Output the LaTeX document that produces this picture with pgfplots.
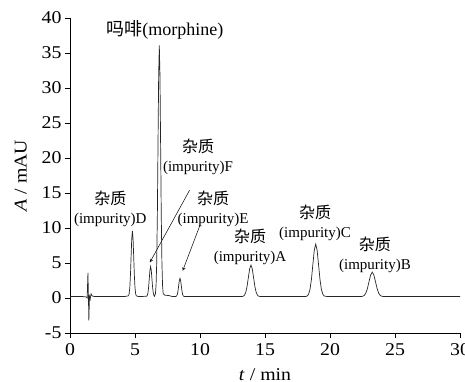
\documentclass[border=0pt]{standalone}
\usepackage{fontspec}
\setmainfont{Liberation Serif}
\newfontfamily\tickfont[FakeStretch=1.1]{Liberation Serif}
\newfontfamily\cjk{Noto Sans CJK SC}
\usepackage{pgfplots}
\pgfplotsset{compat=1.18}
\begin{document}
\begin{tikzpicture}
\begin{axis}[
  at={(70pt,49pt)}, anchor=south west,
  width=390pt, height=315pt, scale only axis,
  xmin=0, xmax=30, ymin=-5, ymax=40,
  axis x line=bottom, axis y line=left,
  axis line style={-, line width=0.7pt},
  xtick={0,5,...,30}, ytick={-5,0,...,40},
  tick align=outside, major tick length=5pt,
  tick style={line width=0.7pt, black},
  /pgf/number format/assume math mode=true,
  tick label style={font=\tickfont\fontsize{18}{20}\selectfont},
  xticklabel style={yshift=-2pt},
  xlabel={\textit{t} / min}, ylabel={\textit{A} / mAU},
  label style={font=\tickfont\fontsize{18}{20}\selectfont},
  xlabel style={at={(axis description cs:0.5,-0.132)}, anchor=center, inner sep=0pt},
  ylabel style={at={(axis description cs:-0.126,0.5)}, anchor=center},
  clip=false,
]
\addplot[line width=0.7pt, black!85] coordinates {
(0,0.2) (1.0,0.2) (1.25,0.15) (1.32,0.0) (1.38,3.6) (1.42,0.0) (1.45,-3.2) (1.5,0.2) (1.55,-0.2) (1.62,0.6) (1.7,0.3) (1.9,0.2)
(4.2,0.2) (4.45,0.3) (4.5,0.30) (4.55,0.61) (4.6,1.47) (4.65,3.25) (4.7,5.90) (4.75,8.50) (4.8,9.6) (4.85,8.50) (4.9,5.90) (4.95,3.25) (5.0,1.47) (5.05,0.61) (5.1,0.30) (5.3,0.2)
(5.9,0.25) (5.95,0.39) (6.0,0.78) (6.05,1.60) (6.1,2.81) (6.15,3.99) (6.2,4.5) (6.25,3.99) (6.3,2.81) (6.35,1.60) (6.4,0.78) (6.45,0.39) (6.5,0.25)
(6.57,0.60) (6.62,1.78) (6.67,5.06) (6.72,11.86) (6.77,21.97) (6.82,31.88) (6.87,36.1) (6.92,31.88) (6.97,21.97) (7.02,11.86) (7.07,5.06) (7.12,1.78) (7.17,0.60) (7.3,0.4) (7.6,0.35) (7.9,0.2)
(8.16,0.23) (8.21,0.31) (8.26,0.55) (8.31,1.04) (8.36,1.78) (8.41,2.49) (8.46,2.8) (8.51,2.49) (8.56,1.78) (8.61,1.04) (8.66,0.55) (8.71,0.31) (8.76,0.23) (9.0,0.2)
(13.2,0.2) (13.32,0.25) (13.42,0.40) (13.52,0.81) (13.62,1.66) (13.72,2.93) (13.82,4.17) (13.92,4.7) (14.02,4.17) (14.12,2.93) (14.22,1.66) (14.32,0.81) (14.42,0.40) (14.52,0.25) (14.7,0.2)
(18.1,0.2) (18.24,0.28) (18.35,0.53) (18.46,1.21) (18.57,2.64) (18.68,4.75) (18.79,6.82) (18.9,7.7) (19.01,6.82) (19.12,4.75) (19.23,2.64) (19.34,1.21) (19.45,0.53) (19.56,0.28) (19.8,0.2)
(22.4,0.2) (22.5,0.24) (22.625,0.35) (22.75,0.67) (22.875,1.34) (23.0,2.32) (23.125,3.29) (23.25,3.7) (23.375,3.29) (23.5,2.32) (23.625,1.34) (23.75,0.67) (23.875,0.35) (24.0,0.24) (24.2,0.2) (30,0.2)
};
\node[font=\fontsize{18}{20}\selectfont] at (axis cs:7.3,38.3) {{\cjk 吗啡}(morphine)};
\tikzset{ann/.style={font=\fontsize{15}{19}\selectfont, align=center, inner sep=0pt}}
\newcommand{\zz}{{\cjk\fontsize{16}{19}\selectfont 杂质}}
\node[ann] at (axis cs:9.85,20.1) {\zz\\(impurity)F};
\node[ann] at (axis cs:3.1,12.7) {\zz\\(impurity)D};
\node[ann] at (axis cs:11.0,12.7) {\zz\\(impurity)E};
\node[ann] at (axis cs:13.85,7.3) {\zz\\(impurity)A};
\node[ann] at (axis cs:18.85,10.7) {\zz\\(impurity)C};
\node[ann] at (axis cs:23.46,6.1) {\zz\\(impurity)B};
\draw[-stealth, line width=0.5pt] (axis cs:9.2,15.4) -- (axis cs:6.15,5.1);
\draw[-stealth, line width=0.5pt] (axis cs:10.0,10.4) -- (axis cs:8.67,3.9);
\end{axis}
\pgfresetboundingbox
\path[use as bounding box] (0,0) rectangle (465pt,382pt);
\end{tikzpicture}
\end{document}
